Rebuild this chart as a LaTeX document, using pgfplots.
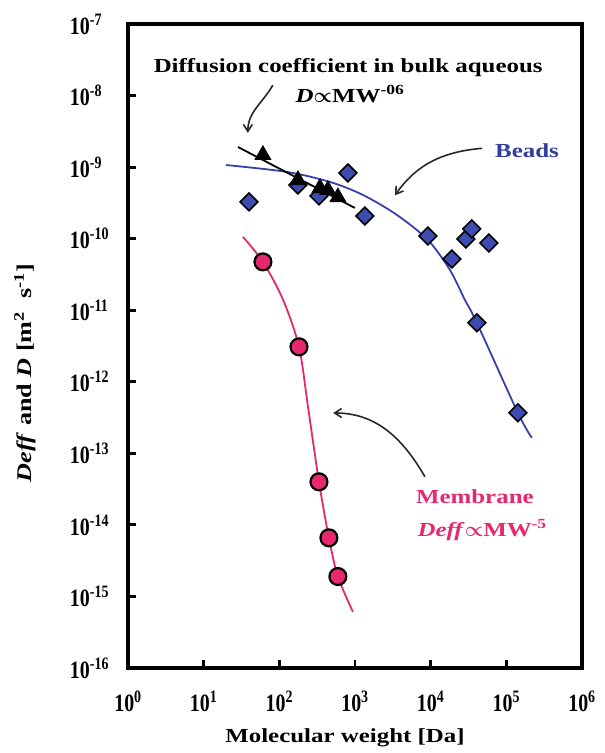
\documentclass[border=0pt]{standalone}
\usepackage{fontspec}
\setmainfont{Liberation Serif}
\newfontfamily\tickf[FakeStretch=0.8]{Liberation Serif}
\newfontfamily\annf[FakeStretch=1.25]{Liberation Serif}
\usepackage{pgfplots}
\pgfplotsset{compat=1.18}
\usetikzlibrary{arrows.meta}
\definecolor{bblue}{RGB}{62,76,178}
\definecolor{lblue}{RGB}{55,65,170}
\definecolor{tblue}{RGB}{50,60,155}
\definecolor{mpink}{RGB}{232,40,110}
\definecolor{arr}{RGB}{40,40,40}

\pgfplotstableread{
x y
19.7 1.07e-9
126 8.57e-10
466 6.21e-10
1271 4.09e-10
3575 2.15e-10
9185 9.6e-11
17950 3.66e-11
28300 1.40e-11
40800 6.67e-12
142000 3.69e-13
217000 1.65e-13
}\beadsfit

\pgfplotstableread{
x y
33 1.06e-10
60.7 4.74e-11
112 1.4e-11
182 3.08e-12
239 4.5e-13
334 4.0e-14
452 6.6e-15
594 1.9e-15
938 6.1e-16
}\membfit

\pgfplotstableread{
x y
39.7 3.27e-10
176 5.64e-10
334 3.96e-10
806 8.3e-10
1352 2.08e-10
9190 1.09e-10
19100 5.2e-11
29200 9.9e-11
35000 1.37e-10
58700 8.7e-11
40800 6.7e-12
142000 3.7e-13
}\beads

\pgfplotstableread{
x y
60.7 4.74e-11
182 3.08e-12
334 4.0e-14
452 6.6e-15
594 1.9e-15
}\memb

\pgfplotstableread{
x y
60.7 1.48e-9
176 6.6e-10
344 5.1e-10
438 4.8e-10
594 3.8e-10
}\bulk

\newcommand{\prop}{{\boldmath$\propto$}}

\begin{document}
\begin{tikzpicture}
\useasboundingbox (-128bp,-85bp) rectangle (477bp,668bp);
\begin{axis}[
  name=ax,
  at={(0,0)}, anchor=south west,
  xmode=log, ymode=log,
  scale only axis, width=454bp, height=644bp,
  xmin=1, xmax=1e6, ymin=1e-16, ymax=1e-7,
  clip=false,
  axis line style={line width=4pt},
  every axis/.append style={line width=4pt},
  tick style={draw=black, line width=3pt},
  major tick length=8bp, minor tick length=0pt,
  tick align=inside,
  xtick pos=left, ytick pos=left,
  xtick={1,10,100,1000,10000,100000,1000000},
  xticklabels={10\textsuperscript{0},10\textsuperscript{1},10\textsuperscript{2},10\textsuperscript{3},10\textsuperscript{4},10\textsuperscript{5},10\textsuperscript{6}},
  ytick={1e-16,1e-15,1e-14,1e-13,1e-12,1e-11,1e-10,1e-9,1e-8,1e-7},
  yticklabels={10\textsuperscript{-16},10\textsuperscript{-15},10\textsuperscript{-14},10\textsuperscript{-13},10\textsuperscript{-12},10\textsuperscript{-11},10\textsuperscript{-10},10\textsuperscript{-9},10\textsuperscript{-8},10\textsuperscript{-7}},
  ticklabel style={font=\tickf\bfseries\fontsize{25}{25}\selectfont},
  yticklabel style={anchor=west, inner sep=0pt, xshift=-60bp},
  xticklabel style={yshift=-18bp},
  xlabel={Molecular weight [Da]},
  xlabel style={font=\annf\bfseries\fontsize{20}{20}\selectfont, at={(axis description cs:0.478,-0.109)}, anchor=center},
  ylabel={\textit{Deff} and \textit{D} [m\textsuperscript{2}\ \ s\textsuperscript{-1}]},
  ylabel style={font=\annf\bfseries\fontsize{21}{21}\selectfont, at={(axis description cs:-0.227,0.458)}, anchor=center, rotate=0},
]
\addplot[lblue, line width=1.8pt, smooth, no marks] table {\beadsfit};
\addplot[mpink, line width=1.8pt, smooth, no marks] table {\membfit};
\addplot[black, line width=1.8pt, no marks] coordinates {(28.4,1.91e-9) (997,2.69e-10)};
\addplot[only marks, mark=square*, mark size=6.3pt, mark options={rotate=45, fill=bblue, draw=black, line width=1.6pt}] table {\beads};
\addplot[only marks, mark=triangle*, mark size=9pt, mark options={fill=black, draw=black, line width=1pt}] table {\bulk};
\addplot[only marks, mark=*, mark size=8.5pt, mark options={fill=mpink, draw=black, line width=2.2pt}] table {\memb};

\node[font=\annf\bfseries\fontsize{20}{20}\selectfont] at (rel axis cs:0.485,0.933) {Diffusion coefficient in bulk aqueous};
\node[font=\annf\bfseries\fontsize{20}{20}\selectfont] at (rel axis cs:0.489,0.891) {\textit{D}\prop MW\textsuperscript{-06}};
\draw[arr, line width=1.6pt, -{Straight Barb[length=7pt,width=9pt]}] (rel axis cs:0.319,0.905) to[out=240,in=90] (rel axis cs:0.264,0.831);

\node[font=\annf\bfseries\fontsize{20}{20}\selectfont, text=tblue] at (rel axis cs:0.879,0.804) {Beads};
\draw[arr, line width=1.6pt, -{Straight Barb[length=7pt,width=9pt]}] (rel axis cs:0.780,0.807) to[out=185,in=55] (rel axis cs:0.588,0.734);

\node[font=\annf\bfseries\fontsize{20}{20}\selectfont, text=mpink] at (rel axis cs:0.764,0.266) {Membrane};
\node[font=\annf\bfseries\fontsize{20}{20}\selectfont, text=mpink] at (rel axis cs:0.780,0.214) {\textit{Deff}\prop MW\textsuperscript{-5}};
\draw[arr, line width=1.6pt, -{Straight Barb[length=7pt,width=9pt]}] (rel axis cs:0.654,0.297) to[out=120,in=0] (rel axis cs:0.452,0.396);
\end{axis}
\draw[black, line width=4pt] (ax.south west) -- (ax.south east) -- (ax.north east) -- (ax.north west) -- cycle;
\end{tikzpicture}
\end{document}
